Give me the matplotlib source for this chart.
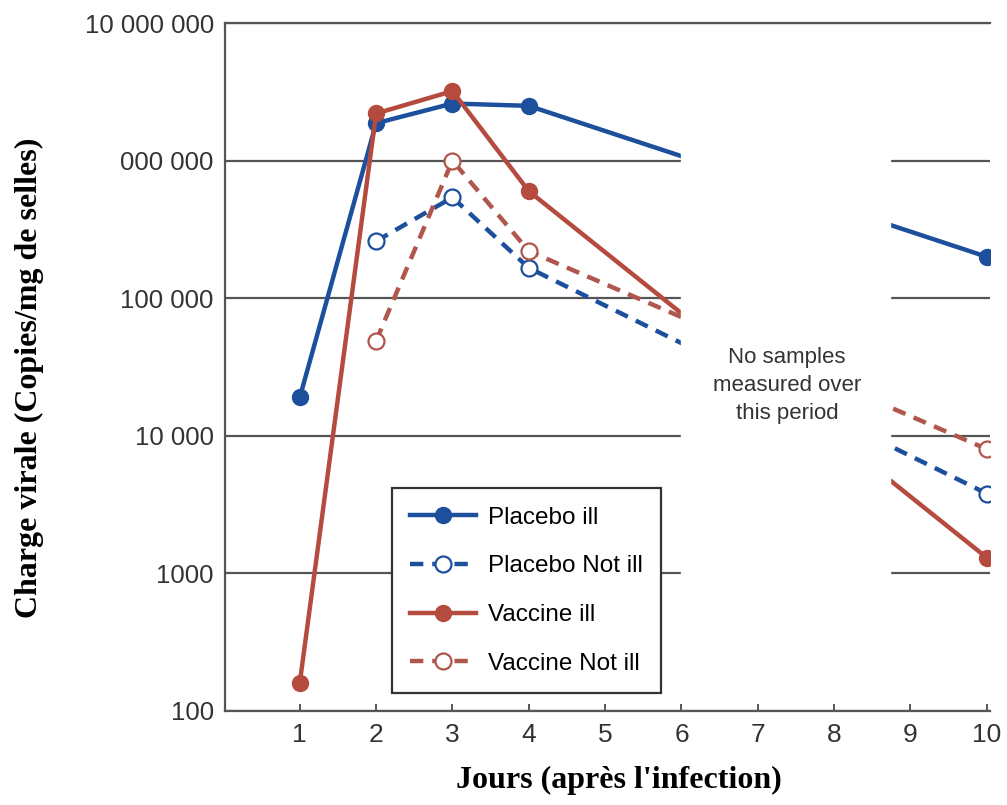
import matplotlib
matplotlib.use('Agg')
from matplotlib import pyplot as plt

# data
days = [1, 2, 3, 4, 10]
placebo_ill = [19000, 1.87e6, 2.6e6, 2.5e6, 2.0e5]
placebo_not_ill_days = [2, 3, 4, 10]
placebo_not_ill = [2.6e5, 5.4e5, 1.66e5, 3800]
vaccine_ill = [160, 2.2e6, 3.2e6, 6.0e5, 1300]
vaccine_not_ill_days = [2, 3, 4, 10]
vaccine_not_ill = [4.9e4, 1.0e6, 2.2e5, 8000]

y_ticks = [100, 1000, 10000, 100000, 1000000, 10000000]
y_tick_labels = ['100', '1000', '10 000', '100 000', '000 000', '10 000 000']
x_ticks = [1, 2, 3, 4, 5, 6, 7, 8, 9, 10]

blue = '#1c4f9c'
red = '#b54a3e'
red_light = '#b0564c'

plt.rcParams['font.family'] = ['Liberation Sans', 'DejaVu Sans']

fig = plt.figure(figsize=(10.07, 8.05), dpi=100)
ax = fig.add_axes([0.2234, 0.1168, 0.7596, 0.8546])

ms = 11.5
ax.plot(days, placebo_ill, color=blue, lw=3.2, marker='o', ms=ms,
        mfc=blue, mec=blue, label='Placebo ill', zorder=2)
ax.plot(placebo_not_ill_days, placebo_not_ill, color=blue, lw=3.2, ls=(0, (3, 2)),
        marker='o', ms=ms, mfc='white', mec=blue, mew=1.6,
        label='Placebo Not ill', zorder=2)
ax.plot(days, vaccine_ill, color=red, lw=3.2, marker='o', ms=ms,
        mfc=red, mec=red, label='Vaccine ill', zorder=2)
ax.plot(vaccine_not_ill_days, vaccine_not_ill, color=red_light, lw=3.2, ls=(0, (3, 2)),
        marker='o', ms=ms, mfc='white', mec=red_light, mew=1.6,
        label='Vaccine Not ill', zorder=2)

ax.set_yscale('log')
ax.set_ylim(100, 1e7)
ax.set_xlim(0.02, 10.04)
ax.set_yticks(y_ticks)
ax.set_yticklabels(y_tick_labels)
ax.minorticks_off()
ax.set_xticks(x_ticks)

ax.grid(axis='y', color='#555555', lw=1.6, zorder=0.5)
ax.set_axisbelow(True)
ax.spines['right'].set_visible(False)
for s in ['left', 'bottom', 'top']:
    ax.spines[s].set_color('#555555')
    ax.spines[s].set_linewidth(1.6)

ax.tick_params(axis='x', direction='in', length=5, width=1.4, color='#555555',
               labelsize=19, labelcolor='#333333', pad=9)
ax.tick_params(axis='y', length=0, labelsize=18.5, labelcolor='#333333', pad=8)

# blank band where no samples were taken (leaves the x ticks visible)
ax.axvspan(6, 8.73, ymin=0.013, ymax=0.996, color='white', zorder=3)
ax.text(7.38, 4.4e4, 'No samples\nmeasured over\nthis period', ha='center', va='top',
        fontsize=16, color='#333333', linespacing=1.42, zorder=6)

leg = ax.legend(loc='lower left', bbox_to_anchor=(0.218, 0.026), borderaxespad=0,
                fontsize=17.5, handlelength=2.7, handletextpad=0.5, borderpad=0.75,
                labelspacing=1.1, fancybox=False, framealpha=1, edgecolor='#333333')
leg.get_frame().set_linewidth(1.6)
leg.set_zorder(5)

ax.set_xlabel("Jours (après l'infection)", family=['Liberation Serif'],
              fontweight='bold', fontsize=23)
ax.set_ylabel('Charge virale (Copies/mg de selles)', family=['Liberation Serif'],
              fontweight='bold', fontsize=23)
ax.xaxis.set_label_coords(0.515, -0.08)
ax.yaxis.set_label_coords(-0.236, 0.485)

plt.savefig('out.png', dpi=100)
